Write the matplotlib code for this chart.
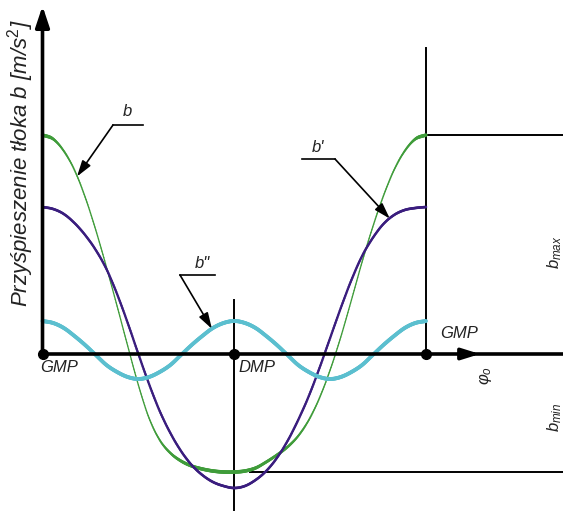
import numpy as np
import matplotlib
matplotlib.use("Agg")
import matplotlib.pyplot as plt
from matplotlib.collections import LineCollection

plt.rcParams["font.family"] = ["Liberation Sans", "DejaVu Sans"]
plt.rcParams["mathtext.fontset"] = "custom"
plt.rcParams["mathtext.it"] = "Liberation Sans:italic"
plt.rcParams["mathtext.rm"] = "Liberation Sans"

# crank angle, degrees
phi = np.arange(0, 361, 10)

# piston acceleration b and its two harmonics (arbitrary units)
b = [219, 215, 203, 184, 157, 124, 87, 48, 8, -31, -64, -86, -99, -107, -112, -115, -117, -118, -118,
     -117, -114, -108, -101, -93, -82, -66, -44, -16, 17, 54, 92, 127, 158, 184, 203, 215, 219]
b1 = [147, 145, 140, 131, 119, 104, 85, 60, 31, 0, -30, -57, -79, -97, -111, -121, -128, -132, -134,
      -132, -126, -117, -104, -87, -66, -42, -14, 16, 46, 74, 98, 116, 130, 139, 144, 146, 147]
b2 = [33, 31, 26, 18, 9, -1, -11, -18, -23, -25, -23, -18, -11, -1, 9, 18, 26, 31, 33,
      31, 26, 18, 9, -1, -11, -18, -23, -25, -23, -18, -11, -1, 9, 18, 26, 31, 33]

green = "#3f9c3a"
purple = "#3a1d7e"
cyan = "#5bbfcf"

# scale: 1.0653 px per degree, 1 px per unit
sx = 1.0653
def P(x, y):
    return ((x - 42.5) / sx, 354 - y)


def smooth(xs, ys, n=12):
    # Catmull-Rom curve through the points, as cubic Bezier pieces
    pts = np.column_stack([xs, ys]).astype(float)
    ext = np.vstack([2 * pts[0] - pts[1], pts, 2 * pts[-1] - pts[-2]])
    t = np.linspace(0, 1, n, endpoint=False)[:, None]
    out = []
    for i in range(1, len(ext) - 2):
        p0, p3 = ext[i], ext[i + 1]
        c1 = p0 + (ext[i + 1] - ext[i - 1]) / 6
        c2 = p3 - (ext[i + 2] - ext[i]) / 6
        out.append((1 - t) ** 3 * p0 + 3 * (1 - t) ** 2 * t * c1
                   + 3 * (1 - t) * t ** 2 * c2 + t ** 3 * p3)
    out.append(pts[-1:])
    return np.vstack(out)


def draw(ys, color, wmin, wmax, z=3):
    xy = smooth(phi, ys)
    seg = np.stack([xy[:-1], xy[1:]], axis=1)
    dx = (xy[1:, 0] - xy[:-1, 0]) * sx
    dy = xy[1:, 1] - xy[:-1, 1]
    flat = dx ** 2 / (dx ** 2 + dy ** 2)
    widths = wmin + (wmax - wmin) * flat
    lc = LineCollection(seg, colors=color, linewidths=widths,
                        capstyle="round", joinstyle="round", zorder=z)
    ax.add_collection(lc)


fig = plt.figure(figsize=(5.63, 5.15), dpi=100)
ax = fig.add_axes([0, 0, 1, 1])
ax.set_xlim(P(0, 0)[0], P(563, 0)[0])
ax.set_ylim(354 - 515, 354)
ax.axis("off")

# curves
draw(b, green, 0.8, 2.6)
draw(b1, purple, 1.6, 1.9)
draw(b2, cyan, 2.6, 2.8)

# axes with arrows
ax.annotate("", xy=P(42.5, 6), xytext=(0, 0),
            arrowprops=dict(arrowstyle="-|>,head_length=0.9,head_width=0.3",
                            lw=2.6, color="k", mutation_scale=14, shrinkA=0, shrinkB=0))
ax.plot([0, P(563, 0)[0]], [0, 0], color="k", lw=2.6, zorder=4)
ax.annotate("", xy=P(480, 354), xytext=P(462, 354),
            arrowprops=dict(arrowstyle="-|>,head_length=0.9,head_width=0.28",
                            lw=2.6, color="k", mutation_scale=12, shrinkA=0, shrinkB=0))
ax.plot([0, 180, 360], [0, 0, 0], "o", color="k", ms=7, zorder=5)

# dead centre lines and extreme levels
ax.plot([180, 180], [P(0, 300)[1], P(0, 510)[1]], color="k", lw=1.4, zorder=2)
ax.plot([360, 360], [0, P(0, 48)[1]], color="k", lw=1.4, zorder=2)
ax.plot([360, P(563, 0)[0]], [max(b), max(b)], color="k", lw=1.4, zorder=2)
ax.plot([P(250, 0)[0], P(563, 0)[0]], [min(b), min(b)], color="k", lw=1.4, zorder=2)

tfont = dict(fontsize=12, style="italic", color="#222222")
ax.text(*P(40, 368), "GMP", ha="left", va="center", **tfont)
ax.text(*P(238, 368), "DMP", ha="left", va="center", **tfont)
ax.text(*P(440, 333), "GMP", ha="left", va="center", **tfont)
ax.text(*P(485, 376), r"$\varphi_o$", rotation=90, ha="center", va="center",
        fontsize=12, color="#222222")
ax.text(*P(555, 252), r"$b_{max}$", rotation=90, ha="center", va="center",
        fontsize=12, color="#222222")
ax.text(*P(555, 417), r"$b_{min}$", rotation=90, ha="center", va="center",
        fontsize=12, color="#222222")
ax.text(*P(21, 163), r"Przyśpieszenie tłoka b [m/s$^2$]", rotation=90,
        ha="center", va="center", fontsize=16, style="italic", color="#222222")

# leader lines with labels
def leader(label, tx, ty, x0, x1, y, knee, phi_tip, curve):
    ax.plot([P(x0, y)[0], P(x1, y)[0]], [P(x0, y)[1]] * 2, color="k", lw=1.2)
    tip = (phi_tip, np.interp(phi_tip, phi, curve))
    ax.annotate("", xy=tip, xytext=P(knee, y),
                arrowprops=dict(arrowstyle="-|>,head_length=0.8,head_width=0.25",
                                lw=1.2, color="k", mutation_scale=12,
                                shrinkA=0, shrinkB=0))
    ax.text(*P(tx, ty), label, ha="center", va="center", **tfont)

leader("b", 127, 112, 113, 143, 125, 113, 32.4, b)
leader("b'", 318, 148, 302, 335, 159, 335, 326, b1)
leader('b"', 202, 264, 180, 215, 275, 180, 159, b2)

fig.savefig("out.png", dpi=100)
